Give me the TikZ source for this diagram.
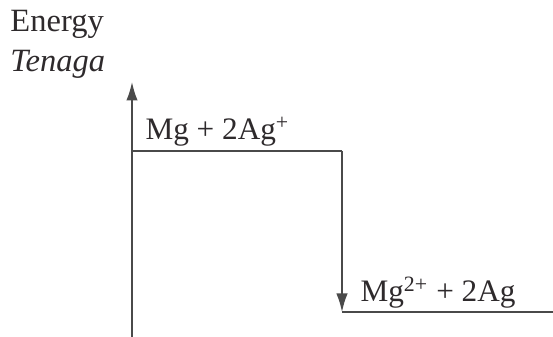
\documentclass[tikz,border=0pt]{standalone}
\usepackage{fontspec}
\setmainfont{Liberation Serif}
\usepackage{tikz}
\usepackage{xcolor}
\usetikzlibrary{arrows.meta,positioning}
\definecolor{ink}{HTML}{2E2A2C}
\definecolor{inkgray}{HTML}{4A4A4A}
\tikzset{
  axislabel/.style={anchor=base west,inner sep=0pt,font=\fontsize{13}{15}\selectfont,text=ink},
  levellabel/.style={anchor=base west,inner sep=0pt,font=\fontsize{12.5}{14}\selectfont,text=ink},
  levelline/.style={draw=inkgray,line width=0.7pt},
  axisarr/.style={-{Latex[length=2.6mm,width=1.6mm]},line width=0.6pt,color=inkgray}
}
\begin{document}
\begin{tikzpicture}[x=0.4pt,y=0.4pt]
      \useasboundingbox (0,0) rectangle (553,337);
      \node[axislabel] (en) at (10,305) {Energy};
      \node[axislabel] (te) at (10,265) {\itshape Tenaga};
      \coordinate (o) at (132,0);
      \coordinate (top) at (132,255);
      \coordinate (hi) at (132,186);
      \coordinate (hiend) at (342,186);
      \coordinate (lo) at (342,25);
      \coordinate (loend) at (553,25);
      \node[levellabel] (react) at (145,197) {Mg + 2Ag\textsuperscript{+}};
      \node[levellabel] (prod) at (360,35) {Mg\textsuperscript{2+} + 2Ag};
      \draw[axisarr] (o)--(top);
      \draw[levelline] (hi)--(hiend);
      \draw[axisarr] (hiend)--(lo);
      \draw[levelline] (lo)--(loend);
    \end{tikzpicture}
\end{document}
